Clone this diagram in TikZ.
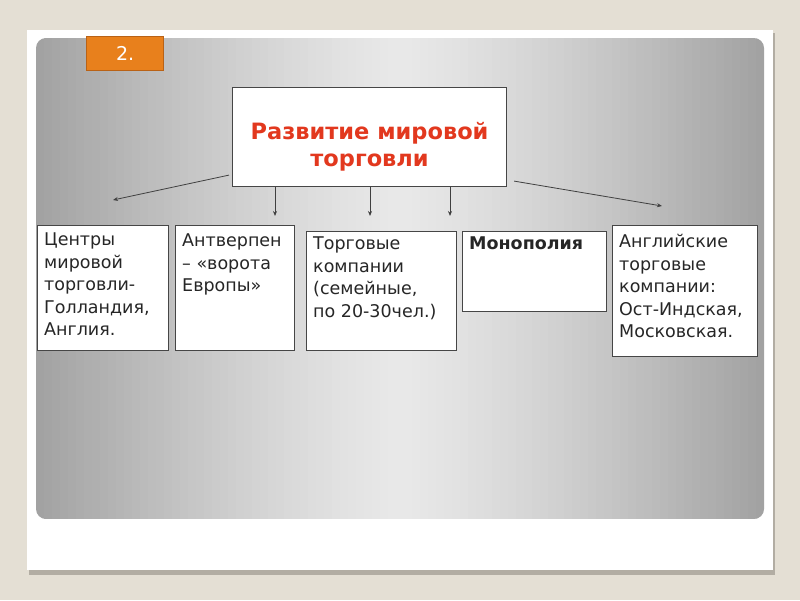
\documentclass[tikz,border=0pt]{standalone}
\usepackage{fontspec}
\setmainfont{DejaVu Sans}
\usetikzlibrary{calc, positioning, arrows.meta}
\definecolor{pagebeige}{RGB}{228,223,212}
\definecolor{cardshadow}{RGB}{178,173,163}
\definecolor{badgeorange}{RGB}{232,128,28}
\definecolor{badgeedge}{RGB}{185,98,22}
\definecolor{titlered}{RGB}{226,56,30}
\definecolor{boxedge}{RGB}{70,70,70}
\newcommand\topicbox[7]{\node[topic, minimum width=#4, minimum height=#5, anchor=north west] (#1) at (#2,#3) {};\node[topictext, inner ysep=#6, anchor=north west] (#1-text) at (#1.north west) {#7};}

\begin{document}
\begin{tikzpicture}[x=1pt, y=-1pt,
  topic/.style={draw=boxedge, line width=0.9pt, fill=white, inner sep=0pt},
  topictext/.style={align=left, inner xsep=7pt, text=black!85, font=\fontsize{17.5}{22.5}\selectfont},
  arr/.style={draw=black!75, line width=0.8pt, -{Stealth[length=5pt,width=4pt]}}]
% page and card
\fill[pagebeige] (0,0) rectangle (800,600);
\useasboundingbox (0,0) rectangle (800,600);
\fill[cardshadow] (29,33) rectangle (775,575);
\fill[white] (27,30) rectangle (773,570);
\begin{scope}
  \clip[rounded corners=10pt] (36,38) rectangle (764,519);
  \foreach \i in {0,...,91}{
    \pgfmathsetmacro\shadeval{9+28*(abs(36+8*\i+4-400)/364)^1.3}
    \fill[black!\shadeval] (36+8*\i,38) rectangle (36+8*\i+8.6,519);
  }
\end{scope}

% badge
\node[draw=badgeedge, fill=badgeorange, line width=1.4pt, minimum width=77pt, minimum height=34pt, anchor=north west, text=white, font=\fontsize{19}{19}\selectfont] (badge) at (86,36) {2.};

% title
\node[draw=boxedge, line width=1.1pt, fill=white, minimum width=274pt, minimum height=99pt, anchor=north west] (title) at (232,87) {};
\node[inner sep=0pt, anchor=north, align=center, text=titlered, font=\bfseries\fontsize{22.5}{27}\selectfont] (title-text) at ([yshift=-35pt]title.north) {Развитие мировой\\торговли};

% boxes
\topicbox{centres}{37}{225}{131pt}{125pt}{8pt}{Центры\\мировой\\торговли-\\Голландия,\\Англия.}
\topicbox{antwerp}{175}{225}{119pt}{125pt}{9pt}{Антверпен\\– «ворота\\Европы»}
\topicbox{companies}{306}{231}{150pt}{119pt}{6pt}{Торговые\\компании\\(семейные,\\по 20-30чел.)}
\topicbox{monopoly}{462}{231}{144pt}{80pt}{6pt}{\textbf{Монополия}}
\topicbox{english}{612}{225}{145pt}{131pt}{9pt}{Английские\\торговые\\компании:\\Ост-Индская,\\Московская.}

% arrows
\coordinate (tipA) at (113,200);
\coordinate (tipB) at (275,216);
\coordinate (tipC) at (370,216);
\coordinate (tipD) at (450,216);
\coordinate (tipE) at (662,206);
\draw[arr] ([xshift=-3pt, yshift=12pt]title.south west) -- (tipA);
\draw[arr] (title.south -| tipB) -- (tipB);
\draw[arr] (title.south -| tipC) -- (tipC);
\draw[arr] (title.south -| tipD) -- (tipD);
\draw[arr] ([xshift=7pt, yshift=6pt]title.south east) -- (tipE);
\end{tikzpicture}
\end{document}
